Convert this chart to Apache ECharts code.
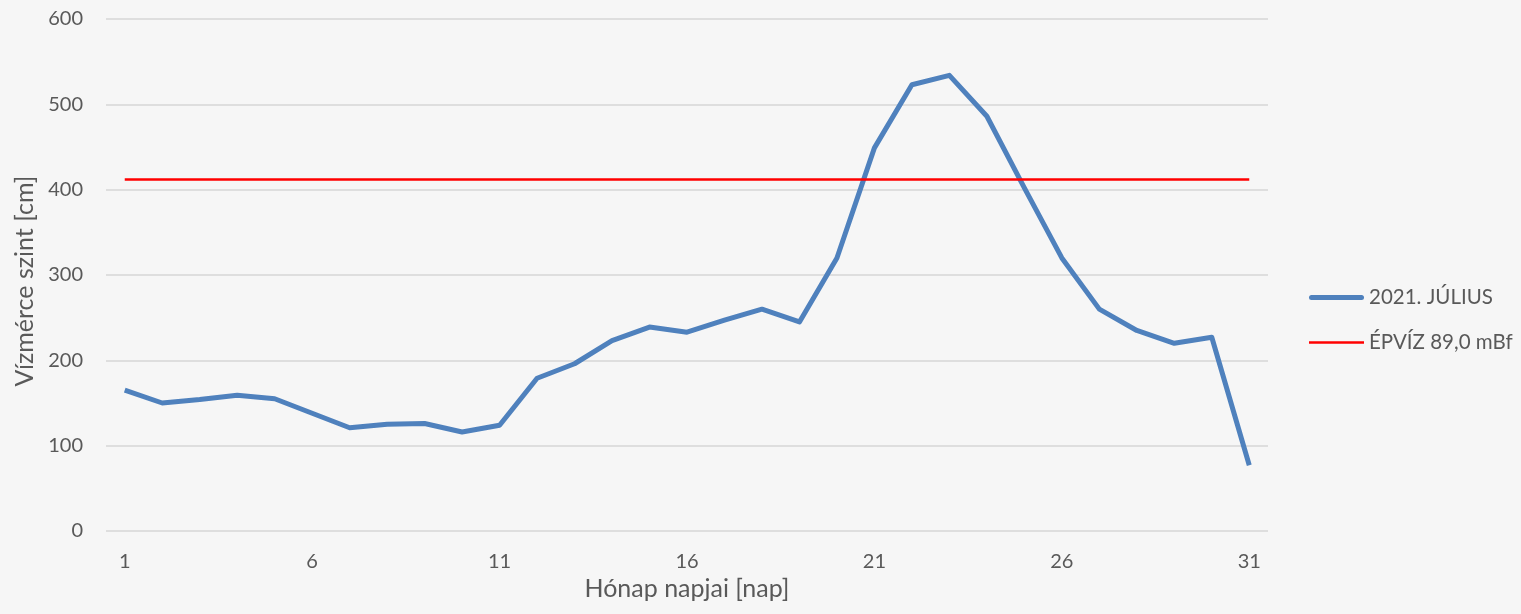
<!DOCTYPE html>
<html>
<head>
<meta charset="utf-8">
<script src="https://cdn.jsdelivr.net/npm/echarts@6/dist/echarts.min.js"></script>
<style>
html,body{margin:0;padding:0;background:#f6f6f6;}
#chart{width:1521px;height:614px;}
</style>
</head>
<body>
<div id="chart"></div>
<script>
const days = ['1','2','3','4','5','6','7','8','9','10','11','12','13','14','15','16','17','18','19','20','21','22','23','24','25','26','27','28','29','30','31'];
const julius2021 = [165,150,154,159,155,138,121,125,126,116,124,179,196,223,239,233,247,260,245,320,449,523,534,486,402,320,260,235,220,227,77];
const epviz = [412,412,412,412,412,412,412,412,412,412,412,412,412,412,412,412,412,412,412,412,412,412,412,412,412,412,412,412,412,412,412];
const seriesNames = ['2021. JÚLIUS','ÉPVÍZ 89,0 mBf'];
const yAxisName = 'Vízmérce szint [cm]';
const xAxisName = 'Hónap napjai [nap]';

const FONT = 'Lato';
const TXT = '#595959';
const chart = echarts.init(document.getElementById('chart'));
chart.setOption({
  backgroundColor: '#f6f6f6',
  animation: false,
  textStyle: {fontFamily: FONT},
  grid: {left: 106, right: 253, top: 19, bottom: 83},
  legend: {
    orient: 'vertical',
    left: 1309,
    top: 287,
    padding: 0,
    itemWidth: 55,
    itemHeight: 14,
    itemGap: 24,
    textStyle: {color: TXT, fontSize: 20.5, fontFamily: FONT},
    data: [
      {name: seriesNames[0], icon: 'path://M2.5,0 L52.5,0 A2.5,2.5 0 0 1 52.5,5 L2.5,5 A2.5,2.5 0 0 1 2.5,0 Z'},
      {name: seriesNames[1], icon: 'path://M0,0 L55,0 L55,2.5 L0,2.5 Z'}
    ]
  },
  xAxis: {
    type: 'category',
    data: days,
    boundaryGap: true,
    name: xAxisName,
    nameLocation: 'middle',
    nameGap: 36,
    nameTextStyle: {color: TXT, fontSize: 25, fontFamily: FONT},
    axisLine: {show: false},
    axisTick: {show: false},
    axisLabel: {interval: 4, color: TXT, fontSize: 20, fontFamily: FONT, margin: 21},
    splitLine: {show: false}
  },
  yAxis: {
    type: 'value',
    min: 0,
    max: 600,
    interval: 100,
    name: yAxisName,
    nameLocation: 'middle',
    nameGap: 69,
    nameTextStyle: {color: TXT, fontSize: 25, fontFamily: FONT, padding: [0, 12, 0, 0]},
    axisLine: {show: false},
    axisTick: {show: false},
    axisLabel: {color: TXT, fontSize: 20, fontFamily: FONT, margin: 23},
    splitLine: {lineStyle: {color: '#d6d6d6', width: 1.5}}
  },
  series: [
    {
      name: seriesNames[0],
      type: 'line',
      data: julius2021,
      symbol: 'none',
      lineStyle: {color: '#4f81bd', width: 5, join: 'round'},
      itemStyle: {color: '#4f81bd'}
    },
    {
      name: seriesNames[1],
      type: 'line',
      data: epviz,
      symbol: 'none',
      lineStyle: {color: '#ff0000', width: 2.5},
      itemStyle: {color: '#ff0000'}
    }
  ]
});
</script>
</body>
</html>
